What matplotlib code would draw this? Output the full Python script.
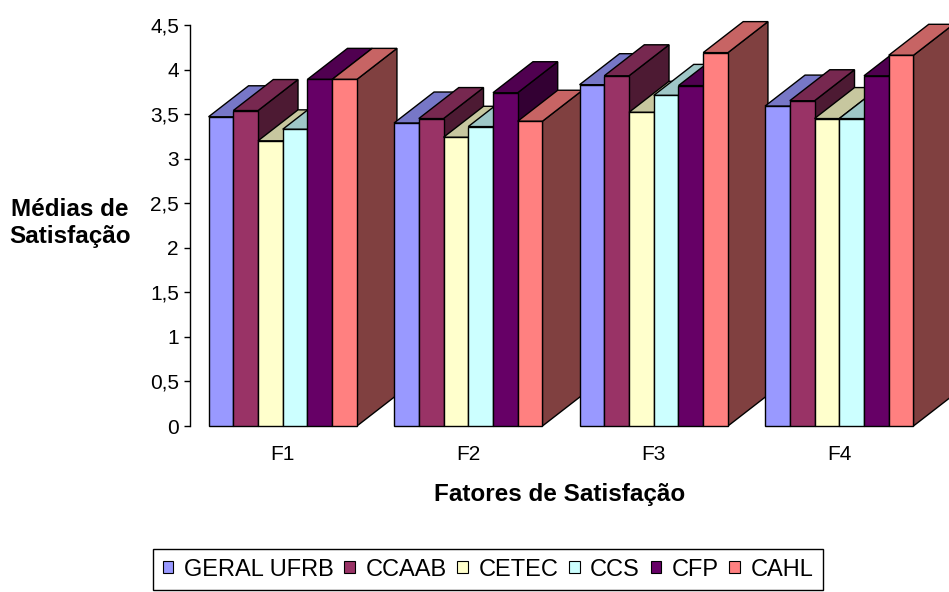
import matplotlib.pyplot as plt
import matplotlib.colors as mcolors
from matplotlib.patches import Polygon, Patch
import numpy as np

plt.rcParams['font.family'] = ['Liberation Sans', 'DejaVu Sans']

categories = ['F1', 'F2', 'F3', 'F4']
series = ['GERAL UFRB', 'CCAAB', 'CETEC', 'CCS', 'CFP', 'CAHL']
geral = [3.47, 3.40, 3.83, 3.59]
ccaab = [3.54, 3.45, 3.93, 3.65]
cetec = [3.20, 3.24, 3.52, 3.45]
ccs = [3.33, 3.36, 3.71, 3.45]
cfp = [3.89, 3.74, 3.82, 3.93]
cahl = [3.89, 3.42, 4.19, 4.16]
colors = ['#9999FF', '#993366', '#FFFFCC', '#CCFFFF', '#660066', '#FF8080']
yticks = [0, 0.5, 1, 1.5, 2, 2.5, 3, 3.5, 4, 4.5]

W, H = 949, 592
fig = plt.figure(figsize=(W / 100, H / 100), dpi=100)
ax = fig.add_axes([190 / W, 166 / H, 742 / W, 401 / H])
ax.set_xlim(-0.5, 3.5)
ax.set_ylim(0, 4.5)

# oblique depth of the 3d columns, in data units
dx = 40 / 185.5
dy = 31 / (401 / 4.5)
group_w = 0.8
bw = group_w / len(series)


def shade(c, f):
    return tuple(np.array(mcolors.to_rgb(c)) * f)


data = [geral, ccaab, cetec, ccs, cfp, cahl]
for i in range(len(categories)):
    for j, vals in enumerate(data):
        c = colors[j]
        x0 = i - group_w / 2 + j * bw
        x1 = x0 + bw
        h = vals[i]
        side = Polygon([(x1, 0), (x1 + dx, dy), (x1 + dx, h + dy), (x1, h)],
                       closed=True, fc=shade(c, 0.5), ec='black', lw=1.0, clip_on=False)
        top = Polygon([(x0, h), (x1, h), (x1 + dx, h + dy), (x0 + dx, h + dy)],
                      closed=True, fc=shade(c, 0.78), ec='black', lw=1.0, clip_on=False)
        ax.add_patch(side)
        ax.add_patch(top)
        ax.bar(x0, h, width=bw, align='edge', color=c, edgecolor='black', lw=1.0, clip_on=False)

for s in ['top', 'right', 'bottom']:
    ax.spines[s].set_visible(False)
ax.spines['left'].set_linewidth(1.0)
ax.set_yticks(yticks)
ax.set_yticklabels([('%g' % v).replace('.', ',') for v in yticks])
ax.tick_params(axis='y', direction='out', length=4.5, width=1.0, pad=3.5, labelsize=15)
ax.set_xticks(range(len(categories)))
ax.set_xticklabels(categories)
ax.tick_params(axis='x', length=0, pad=14, labelsize=15)

fig.text(70 / W, 1 - 223 / H, 'Médias de\nSatisfação', ha='center', va='center',
         fontsize=17.5, fontweight='bold', linespacing=1.25)
fig.text(560 / W, 1 - 495 / H, 'Fatores de Satisfação', ha='center', va='center',
         fontsize=17.5, fontweight='bold')

handles = [Patch(fc=c, ec='black', lw=0.8) for c in colors]
fig.legend(handles, series, ncol=6, loc='center', bbox_to_anchor=(488 / W, 1 - 569.5 / H),
           frameon=True, fancybox=False, edgecolor='black', framealpha=1,
           handlelength=0.45, handleheight=0.45, handletextpad=0.45, columnspacing=0.45,
           borderpad=0.4, borderaxespad=0, fontsize=17)

plt.savefig('out.png', dpi=100)
